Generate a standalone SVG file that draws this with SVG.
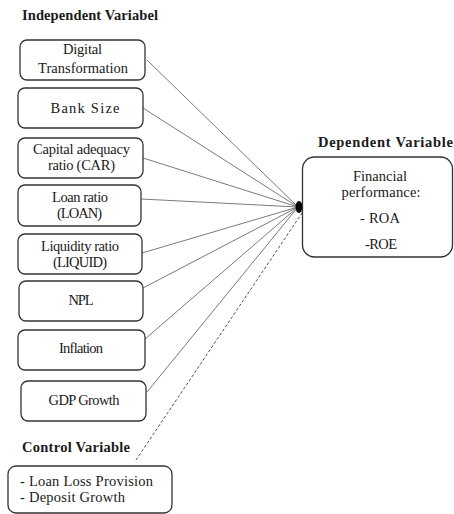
<svg xmlns="http://www.w3.org/2000/svg" width="454" height="514" viewBox="0 0 454 514">
<style>
.box{fill:#fff;stroke:#333;stroke-width:1.3}
.t{font-family:"Liberation Serif","Times New Roman",serif;font-size:14.5px;fill:#1a1a1a;text-anchor:middle}
.h{font-family:"Liberation Serif","Times New Roman",serif;font-size:14.5px;font-weight:bold;fill:#1a1a1a}
.c{fill:none;stroke:#7a7a7a;stroke-width:1}
.d{fill:none;stroke:#555;stroke-width:1;stroke-dasharray:3,2}
</style>
<rect width="454" height="514" fill="#fff"/>
<text class="h" x="22" y="20" textLength="136" lengthAdjust="spacing">Independent Variabel</text>
<text class="h" x="318" y="147" textLength="135" lengthAdjust="spacing">Dependent Variable</text>
<text class="h" x="22" y="452" textLength="108" lengthAdjust="spacing">Control Variable</text>
<g id="connectors">
<line class="c" x1="147" y1="60" x2="298" y2="207"/>
<line class="c" x1="143" y1="108" x2="298" y2="207"/>
<line class="c" x1="143" y1="158" x2="298" y2="207"/>
<line class="c" x1="141" y1="199" x2="298" y2="207"/>
<line class="c" x1="142" y1="253" x2="298" y2="207"/>
<line class="c" x1="143" y1="288" x2="298" y2="207"/>
<line class="c" x1="145" y1="339" x2="298" y2="207"/>
<line class="c" x1="147" y1="392" x2="298" y2="207"/>
<line class="d" x1="136" y1="460" x2="302" y2="213"/>
<ellipse cx="299" cy="207" rx="3.5" ry="6" fill="#000"/>
</g>
<g id="n1"><rect class="box" x="20" y="40" width="125" height="40" rx="7"/>
<text class="t" x="82.5" y="54" textLength="39" lengthAdjust="spacing">Digital</text>
<text class="t" x="83" y="73" textLength="90" lengthAdjust="spacing">Transformation</text></g>
<g id="n2"><rect class="box" x="18" y="88" width="125" height="40" rx="7"/>
<text class="t" x="85" y="113" textLength="69" lengthAdjust="spacing">Bank Size</text></g>
<g id="n3"><rect class="box" x="18" y="138" width="125" height="40" rx="7"/>
<text class="t" x="81.5" y="154" textLength="97" lengthAdjust="spacing">Capital adequacy</text>
<text class="t" x="81.5" y="170" textLength="67" lengthAdjust="spacing">ratio (CAR)</text></g>
<g id="n4"><rect class="box" x="18" y="185" width="123" height="41" rx="7"/>
<text class="t" x="80" y="202" textLength="56" lengthAdjust="spacing">Loan ratio</text>
<text class="t" x="79.5" y="218" textLength="45" lengthAdjust="spacing">(LOAN)</text></g>
<g id="n5"><rect class="box" x="18" y="234" width="124" height="40" rx="7"/>
<text class="t" x="80" y="251" textLength="78" lengthAdjust="spacing">Liquidity ratio</text>
<text class="t" x="80" y="267" textLength="54" lengthAdjust="spacing">(LIQUID)</text></g>
<g id="n6"><rect class="box" x="19" y="281" width="124" height="40" rx="7"/>
<text class="t" x="81" y="305" textLength="25" lengthAdjust="spacing">NPL</text></g>
<g id="n7"><rect class="box" x="18" y="330" width="127" height="40" rx="7"/>
<text class="t" x="81" y="353" textLength="44" lengthAdjust="spacing">Inflation</text></g>
<g id="n8"><rect class="box" x="21" y="381" width="125" height="40" rx="7"/>
<text class="t" x="84" y="405" textLength="71" lengthAdjust="spacing">GDP Growth</text></g>
<g id="control"><rect class="box" x="8" y="466" width="164" height="47" rx="8"/>
<text class="t" style="text-anchor:start" x="20" y="486" textLength="133" lengthAdjust="spacing">- Loan Loss Provision</text>
<text class="t" style="text-anchor:start" x="20" y="502" textLength="105" lengthAdjust="spacing">- Deposit Growth</text></g>
<g id="dependent"><rect class="box" x="302.5" y="157" width="150" height="100" rx="12"/>
<text class="t" x="380" y="181" textLength="54" lengthAdjust="spacing">Financial</text>
<text class="t" x="381" y="197" textLength="79" lengthAdjust="spacing">performance:</text>
<text class="t" x="380" y="223" textLength="40" lengthAdjust="spacing">- ROA</text>
<text class="t" x="381" y="249" textLength="32" lengthAdjust="spacing">-ROE</text></g>
</svg>
